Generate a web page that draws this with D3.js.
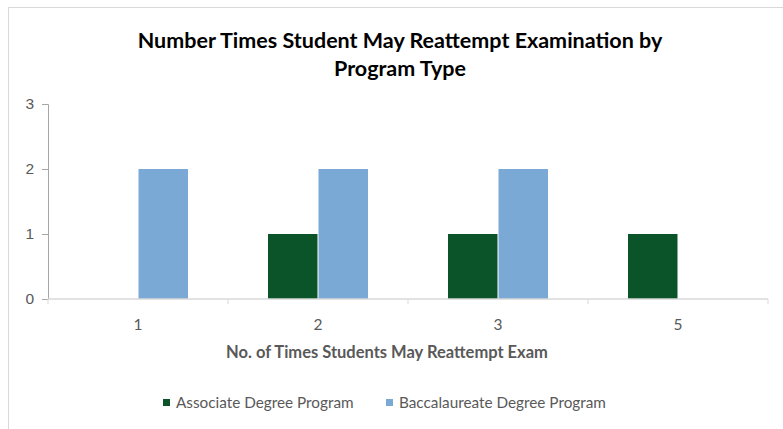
<!DOCTYPE html>
<html>
<head>
<meta charset="utf-8">
<script src="https://cdn.jsdelivr.net/npm/d3@7"></script>
<style>
  body { margin: 0; background: #fff; }
  svg { display: block; font-family: Lato, "Open Sans", sans-serif; }
</style>
</head>
<body>
<div id="chart"></div>
<script>
// data
const categories = ["1", "2", "3", "5"];
const seriesNames = ["Associate Degree Program", "Baccalaureate Degree Program"];
const associate = [0, 1, 1, 1];
const baccalaureate = [2, 2, 2, 0];
const yTicks = [0, 1, 2, 3];
const colors = ["#0b5329", "#7aa9d6"];

const width = 783, height = 429;
const margin = {top: 104, right: 15, bottom: 130, left: 48};

const svg = d3.select("#chart")
    .append("svg")
    .attr("width", width)
    .attr("height", height);

// chart border (only top/left visible in the picture)
svg.append("rect")
    .attr("x", 8.5).attr("y", 7.5)
    .attr("width", 790).attr("height", 440)
    .attr("fill", "none")
    .attr("stroke", "#d9d9d9");

const titleLines = ["Number Times Student May Reattempt Examination by", "Program Type"];
svg.selectAll(".title")
    .data(titleLines)
    .enter().append("text")
    .attr("x", 400)
    .attr("y", (d, i) => 48 + i * 28)
    .attr("text-anchor", "middle")
    .attr("font-weight", "bold")
    .attr("font-size", 21.5)
    .attr("fill", "#000")
    .text(d => d);

const g = svg.append("g")
    .attr("transform", "translate(" + margin.left + "," + margin.top + ")");

const innerW = width - margin.left - margin.right;
const innerH = height - margin.top - margin.bottom;

const x0 = d3.scaleBand()
    .domain(categories)
    .range([0, innerW])
    .paddingInner(0)
    .paddingOuter(0);

const x1 = d3.scaleBand()
    .domain(seriesNames)
    .range([40, x0.bandwidth() - 40])
    .paddingInner(0.02);

const y = d3.scaleLinear()
    .domain([0, 3])
    .range([innerH, 0]);

const data = categories.map((c, i) => ({cat: c, values: [associate[i], baccalaureate[i]]}));

g.selectAll("g.cat")
    .data(data)
    .enter().append("g")
    .attr("class", "cat")
    .attr("transform", d => "translate(" + x0(d.cat) + ",0)")
    .selectAll("rect")
    .data(d => d.values.map((v, j) => ({key: seriesNames[j], v: v, j: j})))
    .enter().append("rect")
    .attr("x", d => x1(d.key))
    .attr("y", d => y(d.v))
    .attr("width", x1.bandwidth())
    .attr("height", d => innerH - y(d.v))
    .attr("fill", d => colors[d.j]);

// y axis
const yAxis = g.append("g")
    .call(d3.axisLeft(y).tickValues(yTicks).tickSize(6).tickPadding(8).tickFormat(d3.format("d")));
yAxis.select(".domain").attr("stroke", "#a6a6a6");
yAxis.selectAll(".tick line").attr("stroke", "#a6a6a6");
yAxis.selectAll(".tick text")
    .attr("fill", "#595959")
    .attr("font-size", 15.5);

// x axis: ticks between categories
const xAxis = g.append("g")
    .attr("transform", "translate(0," + innerH + ")");
xAxis.append("line")
    .attr("x1", 0).attr("x2", innerW)
    .attr("stroke", "#d9d9d9").attr("stroke-width", 1.5);
xAxis.selectAll(".xtick")
    .data(categories)
    .enter().append("line")
    .attr("x1", d => x0(d) + x0.bandwidth())
    .attr("x2", d => x0(d) + x0.bandwidth())
    .attr("y1", 0).attr("y2", 5)
    .attr("stroke", "#d9d9d9");
xAxis.append("line")
    .attr("x1", 0).attr("x2", 0).attr("y1", 0).attr("y2", 5)
    .attr("stroke", "#d9d9d9");
xAxis.selectAll(".xlabel")
    .data(categories)
    .enter().append("text")
    .attr("x", d => x0(d) + x0.bandwidth() / 2)
    .attr("y", 31)
    .attr("text-anchor", "middle")
    .attr("fill", "#595959")
    .attr("font-size", 15.5)
    .text(d => d);

svg.append("text")
    .attr("x", 387).attr("y", 358)
    .attr("text-anchor", "middle")
    .attr("font-weight", "bold")
    .attr("font-size", 16.5)
    .attr("fill", "#595959")
    .text("No. of Times Students May Reattempt Exam");

// legend
const legend = svg.append("g").attr("transform", "translate(163,408)");
const legX = [0, 223];
seriesNames.forEach((name, i) => {
    const it = legend.append("g").attr("transform", "translate(" + legX[i] + ",0)");
    it.append("rect")
        .attr("x", 0).attr("y", -9)
        .attr("width", 7).attr("height", 7)
        .attr("fill", colors[i]);
    it.append("text")
        .attr("x", 13).attr("y", 0)
        .attr("fill", "#595959")
        .attr("font-size", 15.3)
        .text(name);
});
</script>
</body>
</html>
